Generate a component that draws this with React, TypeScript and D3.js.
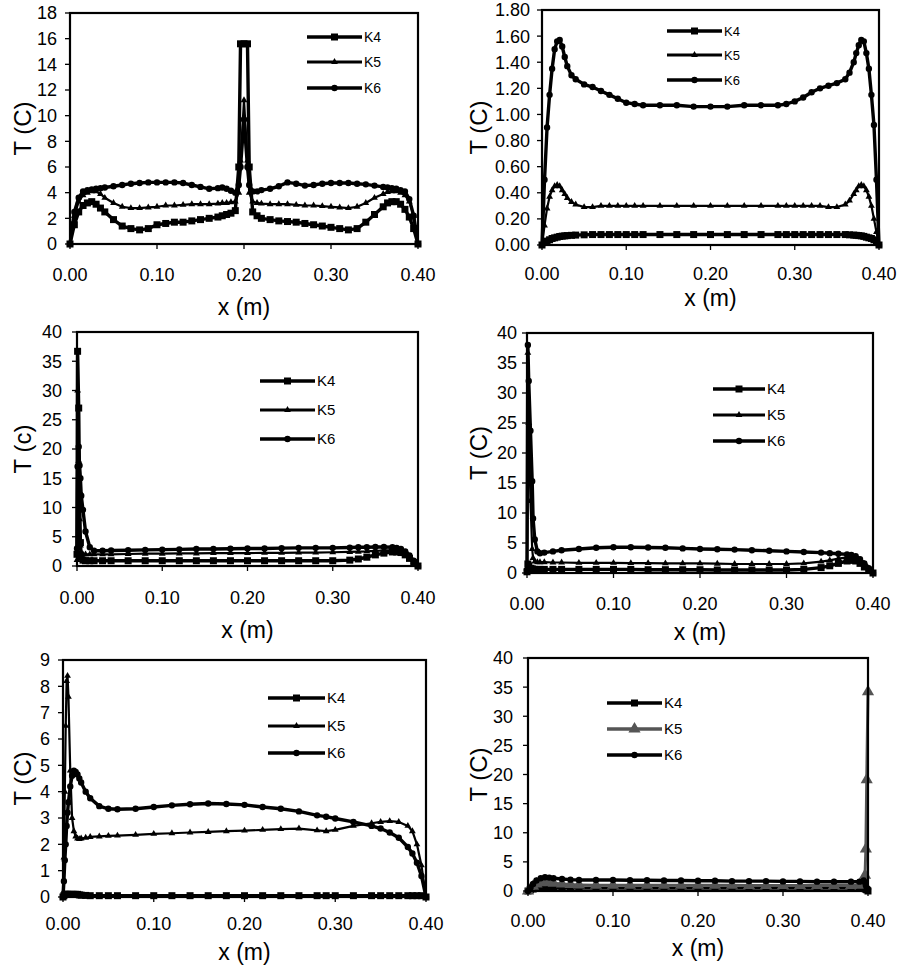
import React from "react";
import * as d3 from "d3";

const SERIES = ["K4", "K5", "K6"];
const X_TICKS = [0, 0.1, 0.2, 0.3, 0.4];

// panel 1 (top left)
const P1_X = [0, 0.005, 0.01, 0.015, 0.02, 0.025, 0.03, 0.035, 0.04, 0.05, 0.06, 0.07, 0.08, 0.09, 0.1, 0.11, 0.12, 0.13, 0.14, 0.15, 0.16, 0.17, 0.175, 0.18, 0.185, 0.19, 0.194, 0.196, 0.2, 0.204, 0.206, 0.21, 0.215, 0.22, 0.23, 0.24, 0.25, 0.26, 0.27, 0.28, 0.29, 0.3, 0.31, 0.32, 0.33, 0.34, 0.35, 0.36, 0.365, 0.37, 0.375, 0.38, 0.385, 0.39, 0.395, 0.4];
const P1_K4 = [0, 1.5, 2.5, 3.0, 3.2, 3.3, 3.1, 2.8, 2.5, 1.9, 1.4, 1.2, 1.1, 1.2, 1.5, 1.6, 1.7, 1.7, 1.8, 1.9, 2.0, 2.1, 2.2, 2.3, 2.4, 2.6, 6.0, 15.6, 15.6, 15.6, 6.0, 2.5, 2.2, 2.0, 1.9, 1.8, 1.75, 1.7, 1.6, 1.5, 1.4, 1.3, 1.2, 1.1, 1.2, 1.7, 2.3, 2.9, 3.2, 3.3, 3.3, 3.1, 2.7, 2.1, 1.2, 0];
const P1_K5 = [0, 2.2, 3.3, 3.8, 4.0, 4.1, 4.1, 3.9, 3.6, 3.2, 2.9, 2.8, 2.8, 2.85, 2.9, 3.0, 3.0, 3.05, 3.1, 3.1, 3.1, 3.15, 3.2, 3.2, 3.25, 3.3, 4.0, 6.5, 11.2, 6.5, 4.0, 3.3, 3.2, 3.15, 3.1, 3.1, 3.1, 3.05, 3.0, 3.0, 2.95, 2.9, 2.85, 2.8, 2.9, 3.2, 3.6, 3.9, 4.05, 4.1, 4.1, 4.0, 3.8, 3.3, 2.2, 0];
const P1_K6 = [0, 2.5, 3.6, 4.1, 4.2, 4.25, 4.3, 4.35, 4.4, 4.5, 4.6, 4.7, 4.75, 4.8, 4.8, 4.8, 4.8, 4.75, 4.6, 4.45, 4.3, 4.35, 4.4, 4.3, 4.15, 4.0, 4.6, 6.0, 9.7, 6.0, 4.6, 4.1, 4.1, 4.2, 4.3, 4.5, 4.8, 4.7, 4.55, 4.6, 4.7, 4.75, 4.75, 4.75, 4.7, 4.65, 4.55, 4.45, 4.4, 4.35, 4.3, 4.2, 4.1, 3.5, 2.2, 0];
const P1_Y_TICKS = [0, 2, 4, 6, 8, 10, 12, 14, 16, 18];

// panel 2 (top right)
const P2_X = [0, 0.003, 0.006, 0.009, 0.012, 0.015, 0.018, 0.021, 0.024, 0.027, 0.03, 0.035, 0.04, 0.05, 0.06, 0.07, 0.08, 0.09, 0.1, 0.11, 0.12, 0.14, 0.16, 0.18, 0.2, 0.22, 0.24, 0.26, 0.28, 0.29, 0.3, 0.31, 0.32, 0.33, 0.34, 0.35, 0.36, 0.365, 0.37, 0.373, 0.376, 0.379, 0.382, 0.385, 0.388, 0.391, 0.394, 0.397, 0.4];
const P2_K4 = [0, 0.02, 0.03, 0.04, 0.05, 0.055, 0.06, 0.065, 0.068, 0.07, 0.072, 0.074, 0.076, 0.078, 0.08, 0.08, 0.08, 0.08, 0.08, 0.08, 0.08, 0.08, 0.08, 0.08, 0.08, 0.08, 0.08, 0.08, 0.08, 0.08, 0.08, 0.08, 0.08, 0.08, 0.08, 0.08, 0.08, 0.078, 0.076, 0.074, 0.072, 0.07, 0.066, 0.06, 0.055, 0.05, 0.04, 0.025, 0];
const P2_K5 = [0, 0.15, 0.28, 0.37, 0.42, 0.45, 0.46, 0.45, 0.42, 0.39, 0.36, 0.33, 0.31, 0.29, 0.29, 0.3, 0.3, 0.3, 0.3, 0.3, 0.3, 0.3, 0.3, 0.3, 0.3, 0.3, 0.3, 0.3, 0.3, 0.3, 0.3, 0.3, 0.3, 0.3, 0.29, 0.29, 0.31, 0.34, 0.39, 0.42, 0.45, 0.46, 0.45, 0.42, 0.37, 0.3, 0.2, 0.1, 0];
const P2_K6 = [0, 0.5, 0.9, 1.15, 1.35, 1.5, 1.56, 1.57, 1.52, 1.44, 1.37, 1.3, 1.27, 1.23, 1.21, 1.18, 1.15, 1.12, 1.09, 1.08, 1.07, 1.07, 1.07, 1.06, 1.06, 1.06, 1.07, 1.07, 1.07, 1.08, 1.1, 1.13, 1.17, 1.2, 1.22, 1.24, 1.27, 1.32, 1.4, 1.47, 1.53, 1.57, 1.56, 1.47, 1.35, 1.15, 0.92, 0.5, 0];
const P2_Y_TICKS = [0, 0.2, 0.4, 0.6, 0.8, 1.0, 1.2, 1.4, 1.6, 1.8];

// panel 3 (middle left)
const P3_X = [0, 0.0007, 0.002, 0.003, 0.004, 0.005, 0.007, 0.01, 0.015, 0.02, 0.03, 0.04, 0.06, 0.08, 0.1, 0.12, 0.14, 0.16, 0.18, 0.2, 0.22, 0.24, 0.26, 0.28, 0.3, 0.32, 0.33, 0.34, 0.35, 0.36, 0.37, 0.375, 0.38, 0.385, 0.39, 0.395, 0.4];
const P3_K4 = [2.0, 36.7, 27.0, 12, 4, 1.5, 1.0, 0.9, 0.9, 0.9, 0.9, 0.9, 0.9, 0.9, 0.9, 0.9, 0.9, 0.9, 0.9, 0.9, 0.9, 0.9, 0.9, 0.9, 0.9, 1.0, 1.2, 1.5, 1.9, 2.2, 2.4, 2.4, 2.3, 1.9, 1.3, 0.6, 0];
const P3_K5 = [1.0, 30, 18, 8, 3.5, 2.3, 2.0, 2.0, 2.0, 2.0, 2.0, 2.0, 2.05, 2.1, 2.1, 2.15, 2.15, 2.2, 2.2, 2.2, 2.25, 2.25, 2.3, 2.3, 2.35, 2.4, 2.45, 2.5, 2.6, 2.65, 2.7, 2.6, 2.4, 2.0, 1.4, 0.7, 0];
const P3_K6 = [3.0, 17, 20.4, 17.2, 15, 12, 9.6, 5.9, 3.2, 2.6, 2.6, 2.65, 2.7, 2.75, 2.8, 2.85, 2.9, 2.9, 2.95, 3.0, 3.0, 3.05, 3.1, 3.1, 3.1, 3.15, 3.2, 3.2, 3.25, 3.25, 3.2, 3.1, 2.9, 2.5, 1.8, 0.9, 0];
const P3_Y_TICKS = [0, 5, 10, 15, 20, 25, 30, 35, 40];

// panel 4 (middle right)
const P4_X = [0, 0.001, 0.002, 0.004, 0.006, 0.007, 0.009, 0.012, 0.015, 0.02, 0.03, 0.04, 0.06, 0.08, 0.1, 0.12, 0.14, 0.16, 0.18, 0.2, 0.22, 0.24, 0.26, 0.28, 0.3, 0.32, 0.34, 0.35, 0.36, 0.37, 0.375, 0.38, 0.385, 0.39, 0.395, 0.4];
const P4_K4 = [0.2, 1.5, 1.2, 0.8, 0.7, 0.6, 0.6, 0.6, 0.6, 0.6, 0.6, 0.6, 0.6, 0.6, 0.6, 0.6, 0.55, 0.55, 0.55, 0.55, 0.5, 0.5, 0.5, 0.5, 0.5, 0.6, 0.9, 1.2, 1.6, 2.0, 2.1, 2.0, 1.6, 1.0, 0.5, 0];
const P4_K5 = [0.3, 36.7, 25, 12, 4, 2.5, 1.9, 1.8, 1.8, 1.8, 1.75, 1.75, 1.7, 1.7, 1.7, 1.65, 1.65, 1.6, 1.6, 1.6, 1.55, 1.5, 1.5, 1.5, 1.5, 1.6, 1.9, 2.1, 2.4, 2.6, 2.6, 2.5, 2.1, 1.5, 0.8, 0];
const P4_K6 = [0.5, 38, 32, 23.7, 15.3, 9.1, 5.6, 3.6, 3.3, 3.4, 3.6, 3.8, 4.0, 4.2, 4.3, 4.3, 4.25, 4.2, 4.1, 4.0, 3.95, 3.9, 3.8, 3.7, 3.6, 3.5, 3.4, 3.3, 3.2, 3.1, 3.0, 2.8, 2.3, 1.6, 0.8, 0];
const P4_Y_TICKS = [0, 5, 10, 15, 20, 25, 30, 35, 40];

// panel 5 (bottom left)
const P5_X = [0, 0.001, 0.002, 0.003, 0.004, 0.005, 0.006, 0.008, 0.01, 0.012, 0.014, 0.016, 0.018, 0.02, 0.025, 0.03, 0.04, 0.05, 0.06, 0.08, 0.1, 0.12, 0.14, 0.16, 0.18, 0.2, 0.22, 0.24, 0.26, 0.28, 0.29, 0.3, 0.32, 0.34, 0.35, 0.36, 0.37, 0.38, 0.385, 0.39, 0.395, 0.4];
const P5_K4 = [0, 0.05, 0.1, 0.1, 0.1, 0.1, 0.1, 0.1, 0.1, 0.1, 0.1, 0.1, 0.08, 0.07, 0.06, 0.05, 0.05, 0.05, 0.05, 0.05, 0.05, 0.05, 0.05, 0.05, 0.05, 0.05, 0.05, 0.05, 0.05, 0.05, 0.05, 0.05, 0.05, 0.05, 0.05, 0.05, 0.05, 0.05, 0.05, 0.05, 0.05, 0];
const P5_K5 = [0, 1.5, 4.0, 6.5, 8.2, 8.4, 7.6, 4.8, 3.0, 2.5, 2.3, 2.22, 2.2, 2.22, 2.25, 2.28, 2.3, 2.32, 2.33, 2.36, 2.4, 2.42, 2.45, 2.47, 2.5, 2.52, 2.55, 2.58, 2.6, 2.53, 2.5, 2.55, 2.7, 2.8, 2.85, 2.88, 2.85, 2.7, 2.5, 2.0, 1.2, 0];
const P5_K6 = [0, 0.6, 1.4, 2.0, 2.7, 3.2, 3.6, 4.2, 4.6, 4.8, 4.75, 4.65, 4.5, 4.35, 4.0, 3.75, 3.45, 3.35, 3.33, 3.35, 3.42, 3.48, 3.52, 3.55, 3.53, 3.5, 3.42, 3.35, 3.25, 3.1, 3.05, 2.98, 2.85, 2.7, 2.6, 2.45, 2.25, 1.9, 1.65, 1.3, 0.8, 0];
const P5_Y_TICKS = [0, 1, 2, 3, 4, 5, 6, 7, 8, 9];

// panel 6 (bottom right)
const P6_X = [0, 0.003, 0.006, 0.01, 0.015, 0.02, 0.025, 0.03, 0.04, 0.05, 0.06, 0.08, 0.1, 0.12, 0.14, 0.16, 0.18, 0.2, 0.22, 0.24, 0.26, 0.28, 0.3, 0.32, 0.34, 0.36, 0.38, 0.39, 0.395, 0.3965, 0.3975, 0.3985, 0.4];
const P6_K4 = [0, 0.2, 0.35, 0.45, 0.5, 0.5, 0.5, 0.5, 0.5, 0.5, 0.5, 0.5, 0.5, 0.5, 0.5, 0.5, 0.5, 0.5, 0.5, 0.5, 0.5, 0.5, 0.5, 0.5, 0.5, 0.5, 0.5, 0.5, 0.45, 0.4, 0.3, 0.2, 0];
const P6_K5 = [0, 0.4, 0.8, 1.2, 1.4, 1.5, 1.45, 1.35, 1.2, 1.1, 1.05, 1.0, 1.0, 1.0, 1.0, 1.0, 1.0, 1.0, 1.0, 1.0, 0.95, 0.95, 0.95, 0.95, 0.95, 0.95, 0.95, 1.0, 1.3, 2.7, 7.2, 19.1, 34.2];
const P6_K6 = [0, 0.6, 1.2, 1.8, 2.2, 2.35, 2.3, 2.2, 2.05, 1.95, 1.9, 1.9, 1.9, 1.85, 1.85, 1.8, 1.8, 1.75, 1.75, 1.7, 1.7, 1.7, 1.65, 1.65, 1.6, 1.6, 1.6, 1.6, 1.8, 1.5, 1.0, 0.5, 0.3];
const P6_Y_TICKS = [0, 5, 10, 15, 20, 25, 30, 35, 40];

const FONT = "'Liberation Sans', Arial, Helvetica, sans-serif";

const panels = [
  { x: P1_X, ys: [P1_K4, P1_K5, P1_K6], yTicks: P1_Y_TICKS, yFmt: d3.format("d"), yTitle: "T (C)",
    box: { left: 70, right: 418, top: 13, bottom: 244 }, xLabelY: 281, xTitleY: 315, yTitleX: 22, gap: 13,
    legend: { x1: 307, x2: 362, ys: [37, 62, 88], font: 14 } },
  { x: P2_X, ys: [P2_K4, P2_K5, P2_K6], yTicks: P2_Y_TICKS, yFmt: d3.format(".2f"), yTitle: "T (C)",
    box: { left: 542, right: 879, top: 10, bottom: 245 }, xLabelY: 280, xTitleY: 306, yTitleX: 478, gap: 12,
    legend: { x1: 667, x2: 722, ys: [31, 55, 80], font: 13 } },
  { x: P3_X, ys: [P3_K4, P3_K5, P3_K6], yTicks: P3_Y_TICKS, yFmt: d3.format("d"), yTitle: "T (c)",
    box: { left: 77, right: 418, top: 332, bottom: 566 }, xLabelY: 604, xTitleY: 638, yTitleX: 22, gap: 15,
    legend: { x1: 260, x2: 315, ys: [381, 410, 439], font: 15 } },
  { x: P4_X, ys: [P4_K4, P4_K5, P4_K6], yTicks: P4_Y_TICKS, yFmt: d3.format("d"), yTitle: "T (C)",
    box: { left: 527, right: 873, top: 333, bottom: 573 }, xLabelY: 610, xTitleY: 640, yTitleX: 478, gap: 10,
    legend: { x1: 713, x2: 765, ys: [389, 415, 441], font: 15 } },
  { x: P5_X, ys: [P5_K4, P5_K5, P5_K6], yTicks: P5_Y_TICKS, yFmt: d3.format("d"), yTitle: "T (C)",
    box: { left: 63, right: 426, top: 660, bottom: 897 }, xLabelY: 930, xTitleY: 960, yTitleX: 22, gap: 13,
    legend: { x1: 268, x2: 325, ys: [698, 726, 753], font: 15 } },
  { x: P6_X, ys: [P6_K4, P6_K5, P6_K6], yTicks: P6_Y_TICKS, yFmt: d3.format("d"), yTitle: "T (C)",
    box: { left: 528, right: 868, top: 658, bottom: 891 }, xLabelY: 927, xTitleY: 956, yTitleX: 478, gap: 15,
    legend: { x1: 607, x2: 662, ys: [703, 729, 755], font: 15 }, grayK5: true },
];

// marker styles: square, small triangle, circle
function markerPath(i: number, big: boolean) {
  if (i === 0) return d3.symbol(d3.symbolSquare, 49)()!;
  if (i === 1) return d3.symbol(d3.symbolTriangle, big ? 64 : 20)()!;
  return d3.symbol(d3.symbolCircle, 32)()!;
}

function Panel({ p }: { p: any }) {
  const { box } = p;
  const x = d3.scaleLinear().domain([0, 0.4]).range([box.left, box.right]);
  const yMax = p.yTicks[p.yTicks.length - 1];
  const y = d3.scaleLinear().domain([0, yMax]).range([box.bottom, box.top]);
  const midY = (box.top + box.bottom) / 2;

  const colorOf = (i: number) => (i === 1 && p.grayK5 ? "#555" : "#000");
  const widthOf = (i: number) => (i === 1 ? (p.grayK5 ? 3 : 2.2) : 3.4);

  return (
    <g>
      {p.ys.map((vals: number[], i: number) => {
        const pts = p.x.map((xv: number, k: number) => [xv, vals[k]] as [number, number]);
        const line = d3.line<[number, number]>().x(d => x(d[0])).y(d => y(d[1]));
        const mk = markerPath(i, !!p.grayK5);
        return (
          <g key={i}>
            <path d={line(pts)!} fill="none" stroke={colorOf(i)} strokeWidth={widthOf(i)} strokeLinejoin="round" />
            {pts.map((d, k) => (
              <path key={k} d={mk} transform={`translate(${x(d[0])},${y(d[1])})`} fill={colorOf(i)} />
            ))}
          </g>
        );
      })}

      <rect x={box.left} y={box.top} width={box.right - box.left} height={box.bottom - box.top}
        fill="none" stroke="#000" strokeWidth={2.2} />

      {X_TICKS.map(t => (
        <g key={t}>
          <line x1={x(t)} x2={x(t)} y1={box.bottom} y2={box.bottom + 5} stroke="#000" strokeWidth={1.3} />
          <text x={x(t)} y={p.xLabelY} textAnchor="middle" fontSize={18} fontFamily={FONT}>
            {d3.format(".2f")(t)}
          </text>
        </g>
      ))}
      {p.yTicks.map((t: number) => (
        <g key={t}>
          <line x1={box.left - 5} x2={box.left} y1={y(t)} y2={y(t)} stroke="#000" strokeWidth={1.3} />
          <text x={box.left - p.gap} y={y(t)} dy="0.36em" textAnchor="end" fontSize={18} fontFamily={FONT}>
            {p.yFmt(t)}
          </text>
        </g>
      ))}

      <text x={(box.left + box.right) / 2} y={p.xTitleY} textAnchor="middle" fontSize={23} fontFamily={FONT}>
        x (m)
      </text>
      <text transform={`translate(${p.yTitleX},${midY}) rotate(-90)`} textAnchor="middle" dy="0.36em"
        fontSize={24} fontFamily={FONT}>
        {p.yTitle}
      </text>

      {SERIES.map((name, i) => {
        const ly = p.legend.ys[i];
        const mx = (p.legend.x1 + p.legend.x2) / 2;
        return (
          <g key={name}>
            <line x1={p.legend.x1} x2={p.legend.x2} y1={ly} y2={ly} stroke={colorOf(i)} strokeWidth={i === 1 && !p.grayK5 ? 2.8 : 3.4} />
            <path d={markerPath(i, !!p.grayK5)} transform={`translate(${mx},${ly})`} fill={colorOf(i)} />
            <text x={p.legend.x2 + 2} y={ly} dy="0.36em" fontSize={p.legend.font} fontFamily={FONT}>{name}</text>
          </g>
        );
      })}
    </g>
  );
}

export default function App() {
  return (
    <svg width={902} height={966} style={{ position: "absolute", left: 0, top: 0, background: "#fff" }}>
      <rect width={902} height={966} fill="#fff" />
      {panels.map((p, i) => <Panel key={i} p={p} />)}
    </svg>
  );
}
